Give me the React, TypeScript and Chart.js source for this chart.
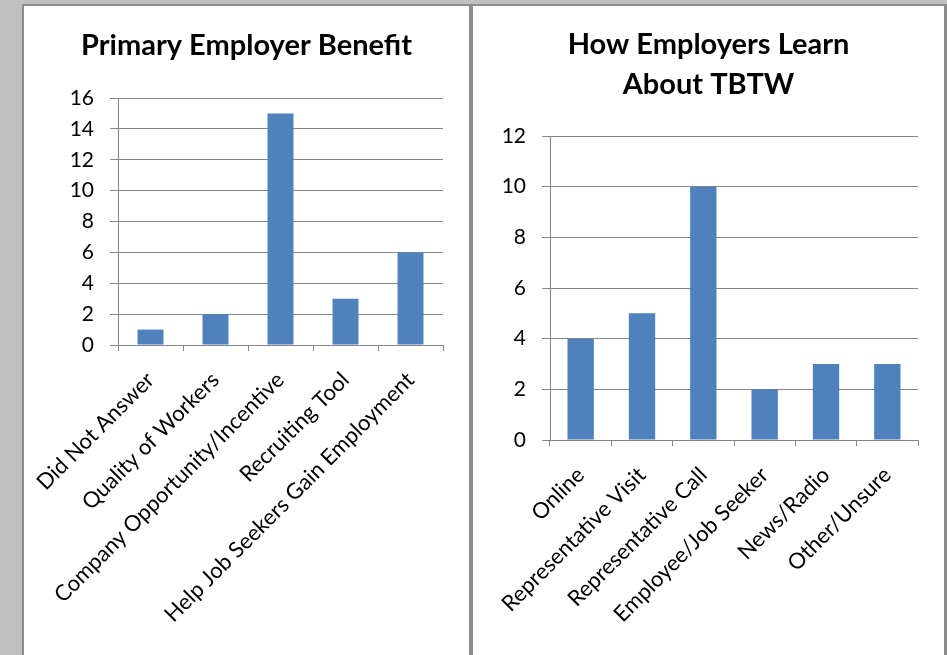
import React, { useEffect, useRef } from "react";
import { Chart, registerables } from "chart.js";

Chart.register(...registerables);

const benefitCategories = [
  "Did Not Answer",
  "Quality of Workers",
  "Company Opportunity/Incentive",
  "Recruiting Tool",
  "Help Job Seekers Gain Employment",
];
const benefitValues = [1, 2, 15, 3, 6];
const benefitTitle = ["Primary Employer Benefit"];
const benefitMax = 16;

const learnCategories = [
  "Online",
  "Representative Visit",
  "Representative Call",
  "Employee/Job Seeker",
  "News/Radio",
  "Other/Unsure",
];
const learnValues = [4, 5, 10, 2, 3, 3];
const learnTitle = ["How Employers Learn", "About TBTW"];
const learnMax = 12;

const tickStep = 2;

const FONT = "Lato, 'Open Sans', sans-serif";
const GRID = "#868686";
const BAR = "#4f81bd";

type Cfg = {
  labels: string[];
  values: number[];
  title: string[];
  max: number;
  yWidth: number;
  xHeight: number;
  padRight: number;
  titleTop: number;
  titleBottom: number;
  titleLineHeight: number | string;
  barPct: number;
};

function BarPanel({ cfg, width, height }: { cfg: Cfg; width: number; height: number }) {
  const ref = useRef<HTMLCanvasElement | null>(null);
  useEffect(() => {
    if (!ref.current) return;
    const chart = new Chart(ref.current, {
      type: "bar",
      data: {
        labels: cfg.labels,
        datasets: [
          {
            data: cfg.values,
            backgroundColor: BAR,
            borderWidth: 0,
            categoryPercentage: 1,
            barPercentage: cfg.barPct,
          },
        ],
      },
      options: {
        responsive: false,
        animation: false,
        layout: { padding: 0 },
        plugins: {
          legend: { display: false },
          tooltip: { enabled: false },
          title: {
            display: true,
            text: cfg.title,
            color: "#000",
            font: { family: FONT, size: 29, weight: "bold", lineHeight: cfg.titleLineHeight },
            padding: { top: cfg.titleTop, bottom: cfg.titleBottom },
          },
        },
        scales: {
          x: {
            grid: {
              display: true,
              drawOnChartArea: false,
              drawTicks: true,
              tickLength: 6,
              color: GRID,
              offset: true,
            },
            border: { display: true, color: GRID, width: 1 },
            ticks: {
              color: "#000",
              font: { family: FONT, size: 22 },
              minRotation: 45,
              maxRotation: 45,
              autoSkip: false,
              padding: 16,
            },
            afterFit: (s: any) => {
              s.height = cfg.xHeight;
              s.paddingLeft = 0;
              s.paddingRight = cfg.padRight;
            },
          },
          y: {
            min: 0,
            max: cfg.max,
            ticks: {
              stepSize: tickStep,
              color: "#000",
              font: { family: FONT, size: 21 },
              padding: 16,
            },
            grid: { color: GRID, tickLength: 8, drawTicks: true },
            border: { display: true, color: GRID, width: 1 },
            afterFit: (s: any) => {
              s.width = cfg.yWidth;
            },
          },
        },
      },
    } as any);
    return () => chart.destroy();
  }, [cfg]);
  return <canvas ref={ref} width={width} height={height} style={{ display: "block", width, height }} />;
}

const leftCfg: Cfg = {
  labels: benefitCategories,
  values: benefitValues,
  title: benefitTitle,
  max: benefitMax,
  yWidth: 94,
  xHeight: 310,
  padRight: 26,
  titleTop: 22.6,
  titleBottom: 34.6,
  titleLineHeight: 1.2,
  barPct: 0.4,
};

const rightCfg: Cfg = {
  labels: learnCategories,
  values: learnValues,
  title: learnTitle,
  max: learnMax,
  yWidth: 77,
  xHeight: 215,
  padRight: 26,
  titleTop: 19,
  titleBottom: 31,
  titleLineHeight: "40px",
  barPct: 0.43,
};

export default function App() {
  return (
    <div
      style={{
        position: "fixed",
        left: 0,
        top: 0,
        width: 947,
        height: 655,
        background: "#c0c0c0",
        overflow: "hidden",
      }}
    >
      <div style={{ position: "absolute", left: 22, top: 4, width: 925, height: 651, background: "#8c8c8c" }} />
      <div style={{ position: "absolute", left: 24, top: 6, width: 445, height: 649, background: "#fff" }}>
        <BarPanel cfg={leftCfg} width={445} height={649} />
      </div>
      <div style={{ position: "absolute", left: 473, top: 6, width: 471, height: 649, background: "#fff" }}>
        <BarPanel cfg={rightCfg} width={471} height={649} />
      </div>
    </div>
  );
}
